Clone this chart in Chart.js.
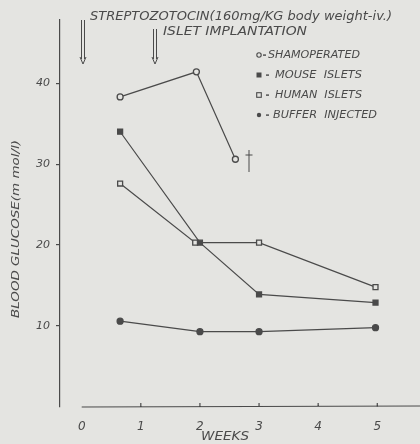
<!DOCTYPE html>
<html>
<head>
<meta charset="utf-8">
<script src="https://cdn.jsdelivr.net/npm/chart.js@4/dist/chart.umd.min.js"></script>
<style>
  html, body { margin: 0; padding: 0; background: #e4e4e1; }
  #wrap { width: 420px; height: 444px; }
</style>
</head>
<body>
<div id="wrap"><canvas id="c" width="420" height="444"></canvas></div>
<script>
// values (weeks after streptozotocin, blood glucose mmol/l)
const shamWeeks = [0.65, 1.94, 2.6];
const shamGlucose = [38.3, 41.4, 30.6];
const mouseWeeks = [0.65, 2.0, 3.0, 4.97];
const mouseGlucose = [34.0, 20.3, 13.9, 12.9];
const humanWeeks = [0.65, 1.92, 3.0, 4.97];
const humanGlucose = [27.6, 20.3, 20.3, 14.8];
const bufferWeeks = [0.65, 2.0, 3.0, 4.97];
const bufferGlucose = [10.6, 9.3, 9.3, 9.8];
const weekTicks = [0, 1, 2, 3, 4, 5];
const glucoseTicks = [10, 20, 30, 40];
const legendLabels = ['SHAMOPERATED', 'MOUSE  ISLETS', 'HUMAN  ISLETS', 'BUFFER  INJECTED'];

const ink = '#4a4a4a';
const paper = '#e4e4e1';
const font = '"DejaVu Sans", sans-serif';

function pts(xs, ys) {
    return xs.map((x, i) => ({ x: x, y: ys[i] }));
}

function serie(label, xs, ys, style, filled, r) {
    return {
        label: label,
        data: pts(xs, ys),
        borderColor: ink,
        borderWidth: 1.2,
        pointStyle: style,
        pointRadius: r,
        pointBorderWidth: 1.3,
        pointBorderColor: ink,
        pointBackgroundColor: filled ? ink : paper,
        tension: 0,
        clip: false
    };
}

// text squeezed/stretched to a width seen on the scan
function fitText(ctx, txt, x, y, w, size) {
    ctx.save();
    ctx.font = 'italic ' + size + 'px ' + font;
    ctx.textBaseline = 'middle';
    ctx.textAlign = 'left';
    const m = ctx.measureText(txt).width;
    ctx.translate(x, y);
    ctx.scale(w / m, 1);
    ctx.fillText(txt, 0, 0);
    ctx.restore();
}

function arrow(ctx, x, y0, y1) {
    ctx.beginPath();
    ctx.moveTo(x - 1.5, y0); ctx.lineTo(x - 1.5, y1 - 5);
    ctx.moveTo(x + 1.5, y0); ctx.lineTo(x + 1.5, y1 - 5);
    ctx.moveTo(x - 3, y1 - 7); ctx.lineTo(x, y1); ctx.lineTo(x + 3, y1 - 7);
    ctx.stroke();
}

const extras = {
    id: 'extras',
    beforeDraw(chart) {
        const ctx = chart.ctx;
        ctx.save();
        ctx.fillStyle = paper;
        ctx.fillRect(0, 0, chart.width, chart.height);
        ctx.restore();
    },
    afterDraw(chart) {
        const ctx = chart.ctx;
        const xs = chart.scales.x;
        const yb = chart.chartArea.bottom;
        ctx.save();
        ctx.strokeStyle = ink;
        ctx.fillStyle = ink;
        ctx.lineWidth = 1.2;

        // x axis starts at week 0, detached from the y axis
        ctx.beginPath();
        ctx.moveTo(xs.getPixelForValue(0), yb);
        ctx.lineTo(chart.width, yb - 1);
        weekTicks.slice(1).forEach(v => {
            const px = xs.getPixelForValue(v);
            ctx.moveTo(px, yb);
            ctx.lineTo(px, yb - 4);
        });
        ctx.stroke();

        // axis titles
        fitText(ctx, 'WEEKS', 201, 437, 48, 12);
        ctx.save();
        ctx.translate(16, 229);
        ctx.rotate(-Math.PI / 2);
        fitText(ctx, 'BLOOD GLUCOSE(m mol/l)', -89, 0, 178, 10.5);
        ctx.restore();

        // treatment arrows and notes
        ctx.lineWidth = 1;
        arrow(ctx, 83, 20, 64);
        arrow(ctx, 155, 29, 64);
        fitText(ctx, 'STREPTOZOTOCIN(160mg/KG body weight-iv.)', 90, 17, 302, 12);
        fitText(ctx, 'ISLET IMPLANTATION', 163, 32, 144, 12);

        // dagger after last sham point
        ctx.beginPath();
        ctx.moveTo(249, 150); ctx.lineTo(249, 172);
        ctx.moveTo(245.5, 155); ctx.lineTo(252.5, 155);
        ctx.stroke();

        // legend
        const rows = [55, 75, 95, 115];
        const starts = [268, 275, 275, 273];
        const ends = [360, 362, 362, 377];
        ctx.lineWidth = 1.1;
        rows.forEach((yy, i) => {
            const mx = 259;
            ctx.beginPath();
            if (i === 0 || i === 3) {
                ctx.arc(mx, yy, 2.2, 0, Math.PI * 2);
                if (i === 3) ctx.fill(); else ctx.stroke();
            } else if (i === 1) {
                ctx.fillRect(mx - 2.5, yy - 2.5, 5, 5);
            } else {
                ctx.strokeRect(mx - 2.3, yy - 2.3, 4.6, 4.6);
            }
            ctx.fillRect(i === 0 ? 263 : 266, yy - 0.6, 3, 1.4);
            fitText(ctx, legendLabels[i], starts[i], yy, ends[i] - starts[i], 10);
        });
        ctx.restore();
    }
};

new Chart(document.getElementById('c'), {
    type: 'line',
    data: {
        datasets: [
            serie('SHAMOPERATED', shamWeeks, shamGlucose, 'circle', false, 3),
            serie('MOUSE ISLETS', mouseWeeks, mouseGlucose, 'rect', true, 3.5),
            serie('HUMAN ISLETS', humanWeeks, humanGlucose, 'rect', false, 3.5),
            serie('BUFFER INJECTED', bufferWeeks, bufferGlucose, 'circle', true, 3)
        ]
    },
    options: {
        responsive: false,
        animation: false,
        layout: { padding: { left: 0, top: 20, right: 0, bottom: 0 } },
        plugins: { legend: { display: false }, tooltip: { enabled: false } },
        scales: {
            x: {
                type: 'linear',
                min: -0.367,
                max: 5.633,
                afterBuildTicks(s) { s.ticks = weekTicks.map(v => ({ value: v })); },
                afterFit(s) { s.height = 37; },
                grid: { display: false },
                border: { display: false },
                ticks: {
                    padding: 5,
                    color: ink,
                    font: { family: font, size: 12, style: 'italic' }
                }
            },
            y: {
                min: 0,
                max: 47.8,
                afterBuildTicks(s) { s.ticks = glucoseTicks.map(v => ({ value: v })); },
                afterFit(s) { s.width = 60; },
                grid: { drawOnChartArea: false, tickLength: 4, color: ink, lineWidth: 1.2 },
                border: { color: ink, width: 1.2 },
                ticks: {
                    padding: 6,
                    color: ink,
                    font: { family: font, size: 11, style: 'italic' }
                }
            }
        }
    },
    plugins: [extras]
});
</script>
</body>
</html>
